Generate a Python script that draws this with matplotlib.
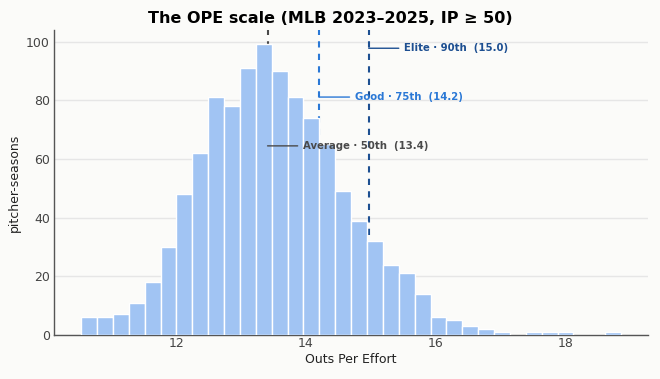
import matplotlib.pyplot as plt
import numpy as np

# histogram of OPE per pitcher-season
bin_start = 10.534
bin_width = 0.245
counts = [6, 6, 7, 11, 18, 30, 48, 62, 81, 78, 91, 99, 90, 81, 74, 65, 49,
          39, 32, 24, 21, 14, 6, 5, 3, 2, 1, 0, 1, 1, 1, 0, 0, 1]

# tier thresholds (line position, printed value)
tier_names = ["Average", "Good", "Elite"]
tier_pcts = ["50th", "75th", "90th"]
tier_values = [13.41, 14.21, 14.97]
tier_colors = ["#4a4a4a", "#2a78d6", "#1d4f91"]
tier_label_frac = [0.62, 0.78, 0.94]

bg = "#fbfbf9"
fig, ax = plt.subplots(figsize=(6.6, 3.79), dpi=100)
fig.patch.set_facecolor(bg)
ax.set_facecolor(bg)

edges = bin_start + bin_width * np.arange(len(counts))
ax.bar(edges, counts, width=bin_width, align="edge", color="#a1c4f3",
       edgecolor="white", linewidth=1, zorder=3)

ymax = max(counts) * 1.05
for name, pct, val, col, frac in zip(tier_names, tier_pcts, tier_values,
                                     tier_colors, tier_label_frac):
    ax.axvline(val, color=col, linestyle=(0, (3, 3)), linewidth=1.5, zorder=2)
    ax.annotate(f"{name} · {pct}  ({val:.1f})", xy=(val, ymax * frac),
                xytext=(val + 0.55, ymax * frac), va="center", ha="left",
                fontsize=7.3, fontweight="bold", color=col, zorder=5,
                arrowprops=dict(arrowstyle="-", color=col, lw=1,
                                shrinkA=2, shrinkB=0))

ax.set_xticks([12, 14, 16, 18])
ax.set_yticks([0, 20, 40, 60, 80, 100])
ax.tick_params(length=0, labelsize=9, labelcolor="#444444")
ax.tick_params(axis="x", pad=1.5)
ax.tick_params(axis="y", pad=3)
ax.grid(axis="y", color="#e6e6e6", linewidth=1, zorder=0)
ax.set_axisbelow(True)
for s in ["top", "right"]:
    ax.spines[s].set_visible(False)
for s in ["left", "bottom"]:
    ax.spines[s].set_color("#555555")
    ax.spines[s].set_linewidth(1)

ax.set_xlabel("Outs Per Effort", fontsize=9, color="#222222", labelpad=2)
ax.set_ylabel("pitcher-seasons", fontsize=9, color="#222222", labelpad=4)
fig.suptitle("The OPE scale (MLB 2023–2025, IP ≥ 50)", fontsize=11.5,
             fontweight="bold", x=0.5, y=0.972)

fig.subplots_adjust(left=0.082, right=0.982, top=0.921, bottom=0.116)
fig.savefig("out.png", dpi=100, facecolor=bg)
